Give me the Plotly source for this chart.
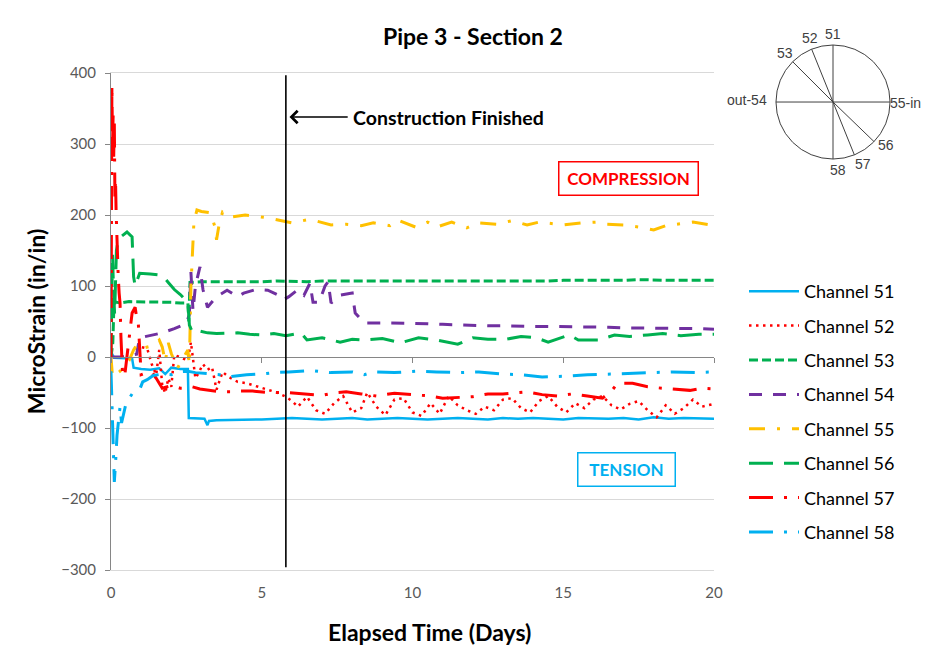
import math
import plotly.graph_objects as go

# ---- data: (elapsed days, microstrain) ----
ch51 = [(0, 0), (0.03, 5), (0.1, -1), (0.4, -2), (0.7, -2), (0.75, -15), (1.0, -17), (1.3, -18),
        (1.6, -16), (1.8, -24), (2.0, -15), (2.3, -17), (2.55, -17), (2.58, -86), (2.8, -86),
        (3.1, -87), (3.2, -96), (3.25, -90), (3.5, -89), (4.0, -89), (4.5, -88), (5.0, -88),
        (5.5, -87), (6.0, -86), (6.5, -87), (7.0, -88), (7.5, -87), (8.0, -86), (8.5, -88),
        (9.0, -87), (9.5, -86), (10.0, -87), (10.5, -88), (11.0, -87), (11.5, -86), (12.0, -87),
        (12.5, -88), (13.0, -86), (13.5, -87), (14.0, -86), (14.5, -87), (15.0, -88), (15.5, -86),
        (16.0, -87), (16.5, -87), (17.0, -86), (17.5, -88), (18.0, -85), (18.5, -87), (19.0, -86),
        (19.5, -87), (20.0, -87)]

ch52 = [(0.8, 12), (1.0, 14), (1.2, 12), (1.35, -10), (1.5, -25), (1.6, 10), (1.7, -40), (1.8, -51),
        (1.9, -30), (2.0, -42), (2.1, 3), (2.25, 0), (2.4, -2), (2.55, -5), (2.65, 21), (2.72, 0),
        (2.8, -30), (2.9, -23), (3.05, -10), (3.2, -18), (3.35, -14), (3.5, -46), (3.7, -21),
        (3.9, -28), (4.2, -35), (4.5, -37), (4.8, -41), (5.2, -46), (5.5, -50), (5.8, -56),
        (6.0, -62), (6.2, -70), (6.5, -56), (6.8, -75), (7.1, -80), (7.4, -65), (7.7, -55),
        (8.0, -78), (8.3, -72), (8.5, -50), (8.8, -70), (9.1, -82), (9.4, -60), (9.7, -58),
        (10.0, -78), (10.3, -83), (10.6, -65), (10.9, -80), (11.2, -55), (11.5, -68), (11.8, -75),
        (12.1, -80), (12.4, -70), (12.7, -75), (13.0, -60), (13.3, -58), (13.6, -72), (13.9, -78),
        (14.2, -62), (14.5, -55), (14.8, -70), (15.1, -78), (15.4, -65), (15.7, -72), (16.0, -60),
        (16.3, -55), (16.6, -68), (16.9, -74), (17.2, -66), (17.5, -62), (17.8, -75), (18.1, -85),
        (18.4, -68), (18.7, -80), (19.0, -72), (19.3, -60), (19.6, -70), (20.0, -66)]

ch53 = [(0, 0), (0.06, 20), (0.1, 78), (0.3, 76), (0.6, 78), (1.0, 78), (1.5, 77), (2.0, 77),
        (2.3, 76), (2.55, 76), (2.58, 50), (2.62, 105), (3.0, 106), (3.5, 106), (4.0, 105),
        (4.5, 106), (5.0, 106), (5.5, 107), (6.0, 106), (6.5, 106), (7.0, 107), (7.5, 107),
        (8.0, 106), (8.5, 106), (9.0, 107), (9.5, 107), (10.0, 106), (10.5, 106), (11.0, 107),
        (11.5, 107), (12.0, 107), (12.5, 106), (13.0, 107), (13.5, 107), (14.0, 107), (14.5, 107),
        (15.0, 108), (15.5, 108), (16.0, 107), (16.5, 107), (17.0, 108), (17.5, 109), (18.0, 108),
        (18.5, 108), (19.0, 108), (19.5, 108), (20.0, 108)]

ch54 = [(0, 0), (0.3, 0), (0.6, 2), (0.85, 4), (0.95, 27), (1.3, 30), (1.7, 34), (2.1, 40),
        (2.5, 47), (2.6, 60), (2.65, 120), (2.72, 65), (2.8, 100), (2.95, 127), (3.05, 95),
        (3.2, 70), (3.5, 85), (3.85, 94), (4.2, 85), (4.4, 90), (4.8, 95), (5.2, 94), (5.5, 88),
        (5.7, 80), (5.9, 85), (6.2, 95), (6.4, 87), (6.6, 104), (6.7, 77), (6.9, 77), (7.1, 100),
        (7.2, 106), (7.3, 76), (7.6, 87), (7.9, 90), (8.0, 90), (8.1, 62), (8.4, 48), (9.0, 48),
        (9.5, 48), (10.0, 47), (10.5, 47), (11.0, 46), (11.5, 45), (12.0, 44), (12.5, 44),
        (13.0, 44), (13.5, 43), (14.0, 43), (14.5, 43), (15.0, 43), (15.5, 42), (16.0, 42),
        (16.5, 42), (17.0, 41), (17.5, 41), (18.0, 41), (18.5, 40), (19.0, 40), (19.5, 40),
        (20.0, 39)]

ch55 = [(0, 0), (0.05, -28), (0.3, -20), (0.6, -5), (0.75, 10), (0.85, 17), (1.0, 12), (1.3, 15),
        (1.5, 20), (1.6, 24), (1.7, 14), (1.8, -7), (1.9, 20), (2.0, 5), (2.2, -16), (2.4, 0),
        (2.55, 10), (2.6, -11), (2.65, 99), (2.75, 190), (2.85, 207), (3.0, 205), (3.3, 203),
        (3.45, 183), (3.5, 165), (3.6, 190), (3.7, 204), (3.95, 197), (4.45, 200), (5.2, 196),
        (6.0, 189), (6.6, 194), (7.3, 186), (7.8, 187), (8.3, 185), (8.7, 189), (9.25, 185),
        (9.5, 193), (10.1, 183), (10.5, 190), (10.8, 183), (11.3, 190), (11.8, 182), (12.2, 189),
        (12.8, 187), (13.3, 192), (13.8, 186), (14.2, 190), (14.7, 187), (15.0, 186), (15.6, 189),
        (16.1, 190), (16.4, 187), (17.0, 186), (17.5, 183), (18.0, 179), (18.4, 185), (19.0, 189),
        (19.3, 190), (20.0, 185)]

ch56 = [(0, 0), (0.03, 90), (0.05, 146), (0.08, 100), (0.12, 60), (0.18, 150), (0.24, 165),
        (0.35, 170), (0.53, 176), (0.7, 169), (0.75, 113), (0.8, 100), (0.95, 118), (1.3, 117),
        (1.7, 115), (1.9, 105), (2.1, 95), (2.3, 88), (2.55, 77), (2.6, 45), (2.7, 35), (2.9, 37),
        (3.2, 34), (3.5, 33), (3.8, 33), (4.2, 34), (4.6, 32), (5.0, 31), (5.4, 33), (5.8, 30),
        (6.3, 34), (6.5, 24), (7.0, 27), (7.6, 21), (8.0, 25), (8.4, 24), (9.0, 26), (9.6, 20),
        (10.2, 27), (10.8, 24), (11.5, 18), (12.0, 27), (12.5, 25), (13.1, 25), (13.6, 29),
        (14.1, 27), (14.5, 21), (15.2, 31), (15.5, 24), (16.2, 24), (16.7, 31), (17.2, 29),
        (17.8, 31), (18.3, 33), (18.9, 30), (19.5, 32), (20.0, 32)]

ch57 = [(0, 0), (0.03, 383), (0.05, 296), (0.07, 340), (0.09, 282), (0.11, 330), (0.13, 225),
        (0.15, 250), (0.17, 204), (0.2, 146), (0.24, 113), (0.27, 90), (0.3, 76), (0.33, 28),
        (0.38, -20), (0.45, -28), (0.55, 10), (0.7, 62), (0.8, 70), (0.85, 56), (0.9, 52),
        (0.95, 17), (1.0, -25), (1.2, -22), (1.35, -21), (1.5, -30), (1.7, -44), (2.0, -40),
        (2.3, -44), (2.5, -44), (2.7, -42), (2.95, -45), (3.3, -47), (3.6, -49), (3.95, -49),
        (4.3, -48), (4.7, -48), (5.2, -50), (5.8, -50), (6.4, -52), (7.0, -54), (7.5, -50),
        (7.8, -49), (8.3, -52), (8.8, -55), (9.4, -51), (10.0, -53), (10.6, -55), (11.0, -58),
        (11.5, -57), (12.0, -56), (12.5, -52), (13.0, -52), (13.8, -49), (14.3, -53), (14.8, -55),
        (15.3, -52), (15.8, -55), (16.3, -58), (16.6, -48), (16.8, -37), (17.3, -37), (17.8, -42),
        (18.3, -44), (18.6, -45), (19.2, -47), (19.6, -44), (20.0, -45)]

ch58 = [(0, -20), (0.02, -46), (0.03, -68), (0.05, -100), (0.07, -121), (0.09, -140), (0.11, -176),
        (0.15, -150), (0.2, -110), (0.3, -70), (0.35, -93), (0.5, -65), (0.7, -52), (0.95, -46),
        (1.05, -35), (1.2, -32), (1.4, -26), (1.7, -24), (2.0, -25), (2.2, -21), (2.55, -20),
        (2.8, -22), (3.2, -23), (3.6, -25), (3.85, -28), (4.2, -26), (4.5, -25), (5.0, -24),
        (5.4, -22), (5.9, -21), (6.6, -19), (7.3, -22), (8.0, -21), (8.4, -25), (8.7, -21),
        (9.4, -22), (10.1, -20), (10.8, -21), (11.5, -22), (12.2, -21), (13.0, -24), (13.6, -25),
        (14.3, -28), (15.1, -27), (15.8, -25), (16.6, -24), (17.3, -23), (18.0, -22), (18.6, -21),
        (19.4, -22), (20.0, -21)]

channel_names = ['Channel 51', 'Channel 52', 'Channel 53', 'Channel 54',
                 'Channel 55', 'Channel 56', 'Channel 57', 'Channel 58']
channel_data = [ch51, ch52, ch53, ch54, ch55, ch56, ch57, ch58]

construction_day = 5.8

# gauge positions round the pipe (degrees, 0 = right)
gauge_labels = ['51', '52', '53', 'out-54', '55-in', '56', '57', '58']
gauge_angles = [90, 112, 135, 180, 0, -44, -68, -90]
label_angles = [90, 110, 134, 180, 0, -39, -64, -86]

# ---- styles ----
BLUE = '#00B0F0'
RED = '#FF0000'
GREEN = '#00B050'
PURPLE = '#7030A0'
GOLD = '#FFC000'
styles = [
    dict(color=BLUE, width=2.5, dash='solid'),
    dict(color=RED, width=2.5, dash='2.5px,4.5px'),
    dict(color=GREEN, width=3, dash='9px,4px'),
    dict(color=PURPLE, width=3, dash='13px,11px'),
    dict(color=GOLD, width=3, dash='16px,12px,3px,12px'),
    dict(color=GREEN, width=3, dash='24px,11px'),
    dict(color=RED, width=3, dash='24px,11px,3px,11px'),
    dict(color=BLUE, width=3, dash='24px,11px,3px,11px'),
]

FONT = 'Lato'
W, H = 922, 640   # page adds an 8px body margin, so this sits inside the 930x660 window

fig = go.Figure()
for name, pts, st in zip(channel_names, channel_data, styles):
    days, strain = zip(*pts)
    fig.add_trace(go.Scatter(x=list(days), y=list(strain), mode='lines', name=name,
                             legendgroup=name, line=st))

# plot area in figure px: x 103..706, y 65..562 ; paper area is 20..910 x 20..640
x_dom = [(103 - 20) / 890, (706 - 20) / 890]
y_dom = [(640 - 562) / 620, (640 - 65) / 620]
zero_pos = y_dom[0] + (0 - -300) / 700 * (y_dom[1] - y_dom[0])

# construction finished marker
fig.add_shape(type='line', xref='x', yref='y', x0=construction_day, x1=construction_day,
              y0=-296, y1=397, line=dict(color='black', width=1.6))
fig.add_annotation(xref='x', yref='y', x=construction_day + 0.12, y=338, axref='x', ayref='y',
                   ax=construction_day + 2.1, ay=338, text='', showarrow=True,
                   arrowhead=4, arrowsize=1.5, arrowwidth=1.6, arrowcolor='black')
fig.add_annotation(xref='x', yref='y', x=construction_day + 2.15, y=338, xanchor='left',
                   text='<b>Construction Finished</b>', showarrow=False,
                   font=dict(family=FONT, size=19.5, color='black'))

fig.add_annotation(xref='x', yref='y', x=17.15, y=252, text='<b>COMPRESSION</b>', showarrow=False,
                   font=dict(family=FONT, size=17, color=RED), bordercolor=RED, borderwidth=1.5,
                   borderpad=5, width=128, height=22, bgcolor='white')
fig.add_annotation(xref='x', yref='y', x=17.1, y=-158, text='<b>TENSION</b>', showarrow=False,
                   font=dict(family=FONT, size=17, color=BLUE), bordercolor=BLUE, borderwidth=1.5,
                   borderpad=5, width=86, height=22, bgcolor='white')

# x axis title (placed as in the original, slightly right of centre)
fig.add_annotation(xref='paper', yref='paper', x=(421 - 20) / 890, y=(640 - 624) / 620,
                   xanchor='center', yanchor='middle', showarrow=False,
                   text='<b>Elapsed Time (Days)</b>', font=dict(family=FONT, size=23, color='black'))

# gauge diagram (inset axes)
fig.add_shape(type='circle', xref='x2', yref='y2', x0=-1, x1=1, y0=-1, y1=1,
              line=dict(color='#404040', width=1))
for a in gauge_angles:
    r = math.radians(a)
    fig.add_shape(type='line', xref='x2', yref='y2', x0=0, y0=0,
                  x1=math.cos(r), y1=math.sin(r), line=dict(color='#404040', width=1))
for lab, a in zip(gauge_labels, label_angles):
    r = math.radians(a)
    if a == 180:
        pos = dict(x=-1.12, y=0.03, xanchor='right', yanchor='middle')
    elif a == 0:
        pos = dict(x=0.96, y=-0.02, xanchor='left', yanchor='middle')
    else:
        pos = dict(x=1.2 * math.cos(r), y=1.2 * math.sin(r), xanchor='center', yanchor='middle')
    fig.add_annotation(xref='x2', yref='y2', text=lab, showarrow=False,
                       font=dict(family='Liberation Sans', size=14, color='#404040'), **pos)

fig.update_layout(
    width=W, height=H,
    margin=dict(l=20, r=W - 910, t=20, b=H - 640),
    paper_bgcolor='white', plot_bgcolor='white',
    font=dict(family=FONT, color='#595959'),
    title=dict(text='<b>Pipe 3 - Section 2</b>', x=465 / W, xanchor='center',
               y=1 - 29 / H, yanchor='middle',
               font=dict(family=FONT, size=23, color='black')),
    xaxis=dict(domain=x_dom, anchor='y', range=[0, 20], dtick=5, showgrid=False,
               zeroline=False, showline=True, linecolor='#D9D9D9', mirror=True,
               automargin=False, ticks='', ticklabelstandoff=9,
               tickfont=dict(family=FONT, size=15, color='#595959')),
    xaxis3=dict(overlaying='x', anchor='free', position=zero_pos, range=[0, 20], dtick=5,
                showgrid=False, zeroline=False, showline=True, linecolor='#868686',
                ticks='outside', ticklen=5, tickcolor='#868686', showticklabels=False),
    yaxis=dict(domain=y_dom, anchor='x', range=[-300, 400], dtick=100, showgrid=True,
               gridcolor='#D9D9D9', zeroline=False, showline=True, linecolor='#868686',
               automargin=False, ticks='outside', ticklen=5, tickcolor='#868686',
               ticklabelstandoff=6, tickfont=dict(family=FONT, size=15, color='#595959'),
               title=dict(text='<b>MicroStrain (in/in)</b>', standoff=9,
                          font=dict(family=FONT, size=23, color='black'))),
    xaxis2=dict(domain=[(752 - 20) / 890, (902 - 20) / 890], anchor='y2', range=[-1.28, 1.35],
                visible=False),
    yaxis2=dict(domain=[(640 - 167) / 620, (640 - 22) / 620], anchor='x2', range=[-1.28, 1.263],
                visible=False),
    legend=dict(x=(736 - 20) / 890, y=(640 - 265) / 620, xanchor='left', yanchor='top',
                font=dict(family=FONT, size=18, color='black'), itemwidth=50,
                tracegroupgap=8, traceorder='grouped', bgcolor='rgba(0,0,0,0)'),
    showlegend=True,
)
# a dummy trace so the zero-line axis is drawn
fig.add_trace(go.Scatter(x=[0, 20], y=[0, 0], xaxis='x3', yaxis='y', mode='lines',
                         line=dict(width=0), hoverinfo='skip', showlegend=False))

fig.write_html('out.html')
